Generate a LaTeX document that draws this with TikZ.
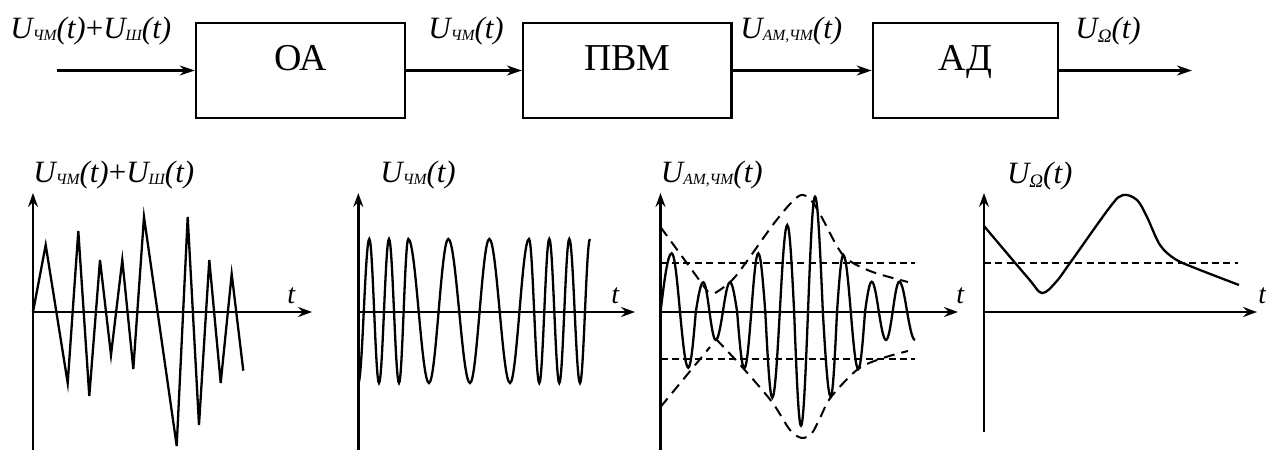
\documentclass[tikz,border=0pt]{standalone}
\usepackage{fontspec}
\setmainfont{Liberation Serif}
\usetikzlibrary{arrows.meta,positioning}

\newcommand{\lowidx}[1]{\raisebox{-1pt}{\fontsize{7.8}{7.8}\selectfont #1}}
\newcommand{\usig}[1]{{\itshape U\lowidx{#1}(t)}}

\tikzset{
  blockbox/.style={draw,line width=1.2pt,inner sep=0pt,
                   text height=23.75pt,text depth=23.75pt,
                   font=\fontsize{19}{19}\selectfont},
  sigarrow/.style={line width=1.2pt,-{Stealth[length=7.5pt,width=5pt,inset=2.4pt]}},
  axisline/.style={line width=1.3pt,-{Stealth[length=7pt,width=5pt,inset=2.4pt]}},
  sigline/.style={line width=1.15pt},
  levelline/.style={line width=1pt,dash pattern=on 3.5pt off 2.2pt},
  envline/.style={line width=1pt,dash pattern=on 5.5pt off 3.5pt},
  siglabel/.style={anchor=base west,inner sep=0pt,font=\fontsize{15.5}{15.5}\selectfont},
  tlabel/.style={anchor=base west,inner sep=0pt,font=\fontsize{14}{14}\selectfont\itshape}
}

\begin{document}
\begin{tikzpicture}[x=0.5pt,y=-0.5pt]
  \useasboundingbox (0,0) rectangle (1266,451);

  % block chain
  \node[blockbox,minimum width=104.5pt] (oa) at (300.5,70.5) {ОА};
  \node[blockbox,minimum width=104.2pt,right=57.85pt of oa] (pvm) {ПВМ};
  \node[blockbox,minimum width=92.5pt,right=69.5pt of pvm] (ad) {АД};
  \coordinate (src) at (57,70.5);
  \coordinate (dst) at (1192,70.5);
  \draw[sigarrow] (src) -- (oa);
  \draw[sigarrow] (oa) -- (pvm);
  \draw[sigarrow] (pvm) -- (ad);
  \draw[sigarrow] (ad) -- (dst);

  \node[siglabel] (lin) at (10,38) {\usig{ЧМ}+\usig{Ш}};
  \node[siglabel] (lfm) at (428,38) {\usig{ЧМ}};
  \node[siglabel] (lam) at (740,38) {\usig{АМ,ЧМ}};
  \node[siglabel] (lout) at (1075,38) {{\itshape U\raisebox{-2pt}{\fontsize{9.5}{9.5}\selectfont Ω}(t)}};

  % axes
  \foreach \ox/\bot/\tip/\tx [count=\i] in {33/450/312/287, 358.3/450/635/611,
                                           660.5/450/958/956, 984/432/1257/1258} {
    \coordinate (yb\i) at (\ox,\bot);
    \coordinate (yt\i) at (\ox,193);
    \coordinate (o\i) at (\ox,312);
    \coordinate (xt\i) at (\tip,312);
    \draw[axisline] (yb\i) -- (yt\i);
    \draw[axisline] (o\i) -- (xt\i);
    \node[tlabel] (t\i) at (\tx,303) {t};
  }

  \node[siglabel] (g1) at (33,182) {\usig{ЧМ}+\usig{Ш}};
  \node[siglabel] (g2) at (380,182) {\usig{ЧМ}};
  \node[siglabel] (g3) at (660.5,182) {\usig{АМ,ЧМ}};
  \node[siglabel] (g4) at (1006.7,183) {{\itshape U\raisebox{-2pt}{\fontsize{9.5}{9.5}\selectfont Ω}(t)}};

  % FM + noise
  \draw[sigline] plot coordinates {(33,312) (45.7,245) (67.7,383) (78.3,231) (89.3,396)
    (100,260) (111,355) (122.3,260) (133.3,369) (144,217) (176.7,446) (187.7,217)
    (199,425) (209.3,260) (220.7,383) (231.7,274) (243.3,370.7)};

  % FM
  \draw[sigline] (358.3,383) foreach \xe/\ye [remember=\xe as \xp (initially 358.3)] in
    {369.3/239, 379/383, 389/239, 399/383, 408.3/239, 429/383, 448.3/239, 470/383,
     489.3/239, 510/383, 529/239, 539.3/383, 549.3/239, 559.3/383, 569.3/239,
     580/383, 590/239}
    { cos ({(\xp+\xe)/2},311) sin (\xe,\ye) };

  % AM,FM
  \draw[levelline] (660.5,263.3) -- (915,263.3);
  \draw[levelline] (660.5,359) -- (915,359);
  \draw[sigline] (660.5,312) sin (671.7,253.3)
    foreach \xe/\ye [remember=\xe as \xp (initially 671.7)] in
    {688.3/367.7, 703.3/282.3, 715.7/340, 730/282.3, 744.3/368.3, 758.3/253.3,
     772.3/397.7, 787.3/225, 801/425.7, 815/196.7, 830.7/396.7, 843.3/255,
     858.3/369, 871.7/281.7, 886/340, 899.3/281.7, 915/340}
    { cos ({(\xp+\xe)/2},312) sin (\xe,\ye) };
  \draw[envline] (660.5,227) -- (708,292);
  \draw[envline] plot[smooth] coordinates {(715,293) (735,277) (772,226) (790,204)
    (801,195) (810,199) (820,214) (843,255) (870,271) (908,282)};
  \draw[envline] (660.5,407) -- (710,347);
  \draw[envline] plot[smooth] coordinates {(716,339) (743,368) (772,402) (790,430)
    (802,438) (812,433) (820,418) (831,397) (858,369) (883,358) (908,351)};

  % detector output
  \draw[levelline] (984,263.3) -- (1238,263.3);
  \draw[sigline] plot[smooth,tension=0.55] coordinates {(984,226) (1028,278) (1042,293)
    (1056,282) (1070,263) (1110,207) (1123,195) (1137,200) (1147,217) (1160,245)
    (1175,259) (1195,268) (1239,285)};
\end{tikzpicture}
\end{document}
